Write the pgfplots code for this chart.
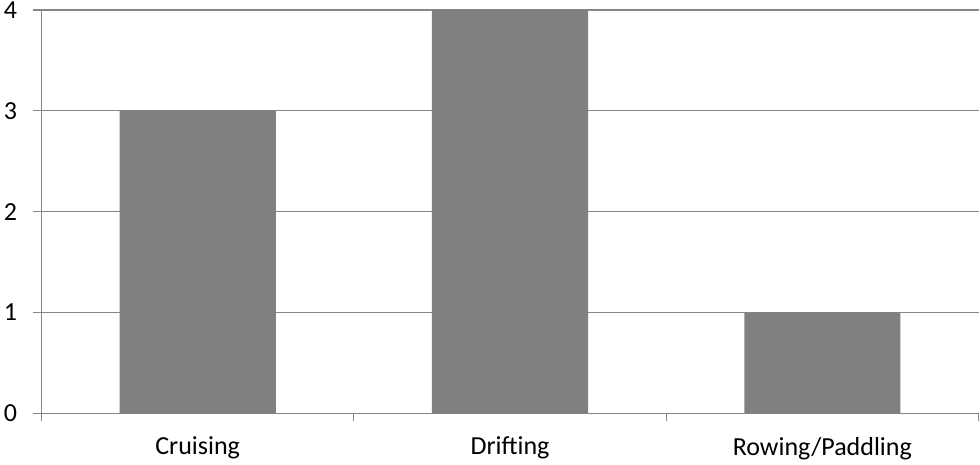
\documentclass[border=0pt]{standalone}
\usepackage{pgfplots}
\pgfplotsset{compat=1.18}
\usepackage{fontspec}
\setmainfont{Carlito}
\definecolor{gridc}{RGB}{134,134,134}
\definecolor{barc}{RGB}{128,128,128}
\begin{document}
\begin{tikzpicture}[x=1pt,y=1pt]
\useasboundingbox (0,0) rectangle (980,465);
\begin{axis}[
  at={(41.5pt,51.5pt)}, anchor=south west,
  scale only axis, width=937pt, height=403.5pt,
  xmin=-0.5, xmax=2.5, ymin=0, ymax=4,
  axis x line=bottom, axis y line=left,
  axis line style={-, gridc, line width=1.2pt},
  ymajorgrids, grid style={gridc, line width=1.2pt},
  xtick={0,1,2}, xticklabels={Cruising,Drifting,Rowing/Paddling},
  ytick={0,1,2,3,4},
  x tick style={draw=none},
  y tick style={gridc, line width=1.2pt},
  tick align=outside, major tick length=8pt,
  extra x ticks={-0.5,0.5,1.5,2.5}, extra x tick labels={},
  extra x tick style={grid=none, x tick style={draw=gridc, line width=1.2pt}},
  tick label style={font=\fontsize{26}{31}\selectfont, black},
  /pgf/number format/assume math mode=true,
  yticklabel style={anchor=east, xshift=-13pt},
  xticklabel style={yshift=-12pt},
  clip=false,
]
\addplot[ybar, bar width=0.5, fill=barc, draw=none] coordinates {(0,3) (1,4) (2,1)};
\end{axis}
\end{tikzpicture}
\end{document}
